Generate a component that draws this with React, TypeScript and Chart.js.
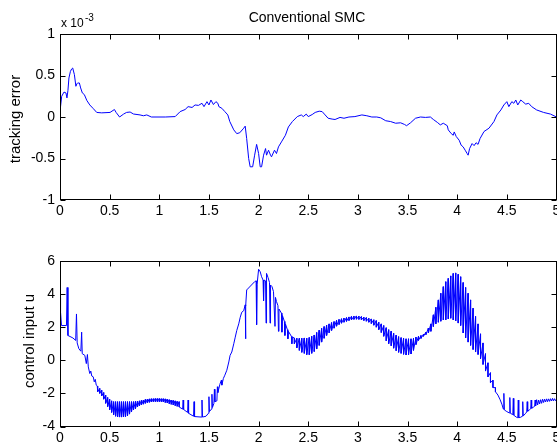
import React, { useEffect, useRef } from "react";
import { Chart, registerables } from "chart.js";

Chart.register(...registerables);

const FONT = '"Liberation Sans", Arial, Helvetica, sans-serif';

// ---- shared axis settings ----
const timeMin = 0;
const timeMax = 5;
const timeStep = 0.5;
const errAxis = { min: -1, max: 1, step: 0.5 };
const uAxis = { min: -4, max: 6, step: 2 };

// ---- top panel: tracking error (x 10^-3) ----
const errTime = [
  0, 0.005, 0.017, 0.04, 0.06, 0.07, 0.08, 0.09, 0.105, 0.118, 0.128, 0.145, 0.16, 0.17, 0.178, 0.195,
  0.208, 0.225, 0.245, 0.27, 0.3, 0.336, 0.37, 0.42, 0.504, 0.548, 0.565, 0.6, 0.64, 0.67, 0.706, 0.74,
  0.806, 0.84, 0.874, 0.92, 1.06, 1.16, 1.21, 1.26, 1.29, 1.33, 1.36, 1.394, 1.43, 1.45, 1.48, 1.5,
  1.52, 1.545, 1.57, 1.59, 1.6, 1.63, 1.66, 1.69, 1.71, 1.75, 1.78, 1.81, 1.85, 1.865, 1.88, 1.9,
  1.915, 1.94, 1.96, 1.98, 2.0, 2.016, 2.03, 2.05, 2.07, 2.08, 2.1, 2.12, 2.13, 2.16, 2.18, 2.2,
  2.23, 2.27, 2.3, 2.34, 2.39, 2.43, 2.45, 2.48, 2.5, 2.54, 2.57, 2.61, 2.64, 2.67, 2.7, 2.74,
  2.77, 2.82, 2.86, 2.91, 2.97, 3.04, 3.09, 3.14, 3.19, 3.23, 3.28, 3.33, 3.38, 3.43, 3.47, 3.49,
  3.53, 3.58, 3.63, 3.68, 3.73, 3.76, 3.8, 3.83, 3.86, 3.9, 3.91, 3.94, 3.96, 3.97, 3.99, 4.02,
  4.04, 4.06, 4.08, 4.1, 4.11, 4.125, 4.15, 4.17, 4.19, 4.21, 4.23, 4.27, 4.32, 4.37, 4.4, 4.44,
  4.47, 4.5, 4.52, 4.55, 4.57, 4.59, 4.61, 4.64, 4.66, 4.69, 4.72, 4.75, 4.8, 4.87, 4.94, 5.0,
];
const errValue = [
  0, 0.12, 0.25, 0.3, 0.29, 0.23, 0.32, 0.47, 0.55, 0.58, 0.59, 0.51, 0.37, 0.4, 0.41, 0.41,
  0.35, 0.29, 0.27, 0.2, 0.145, 0.1, 0.055, 0.05, 0.055, 0.09, 0.055, 0.0, 0.035, 0.055, 0.06, 0.036,
  0.025, 0.015, 0.025, 0.0, 0.0, 0.005, 0.065, 0.09, 0.125, 0.115, 0.145, 0.14, 0.165, 0.125, 0.185, 0.145,
  0.205, 0.15, 0.185, 0.165, 0.125, 0.105, 0.065, 0.025, -0.055, -0.155, -0.2, -0.19, -0.135, -0.11, -0.26, -0.5,
  -0.6, -0.6, -0.46, -0.33, -0.44, -0.6, -0.6, -0.46, -0.38, -0.46, -0.4, -0.46, -0.48, -0.4, -0.44, -0.36,
  -0.3, -0.22, -0.12, -0.055, 0.005, 0.025, 0.005, 0.035, 0.005, 0.03, 0.055, 0.07, 0.065, 0.025, -0.015, -0.025,
  -0.03, -0.005, -0.015, 0.0, 0.005, 0.025, 0.015, 0.0, 0.0, -0.01, -0.045, -0.055, -0.075, -0.07, -0.09, -0.105,
  -0.07, -0.015, 0.0, -0.005, 0.0, -0.03, -0.065, -0.095, -0.075, -0.105, -0.155, -0.2, -0.22, -0.18, -0.235, -0.28,
  -0.34, -0.36, -0.4, -0.44, -0.46, -0.38, -0.32, -0.345, -0.31, -0.33, -0.26, -0.175, -0.135, -0.055, 0.025, 0.085,
  0.145, 0.185, 0.125, 0.185, 0.165, 0.205, 0.145, 0.205, 0.185, 0.155, 0.165, 0.125, 0.085, 0.055, 0.035, 0.0,
];

// ---- bottom panel: control input u ----
// explicit points [time, u]
const uStart: [number, number][] = [
  [0, 3.8], [0.003, 0.0], [0.008, 2.9], [0.015, 2.1], [0.065, 2.1], [0.072, 4.4], [0.08, 1.5],
  [0.13, 1.35], [0.158, 1.2], [0.166, 2.8], [0.173, 1.05], [0.19, 0.7], [0.21, 0.55], [0.218, 1.7],
  [0.224, 0.4], [0.25, 0.3], [0.265, -0.2], [0.276, 0.35], [0.285, -0.4], [0.3, -0.8], [0.31, -0.65],
  [0.32, -0.95], [0.335, -1.0], [0.345, -1.3], [0.355, -1.15], [0.365, -1.5], [0.375, -1.55],
];
// chattering strokes [time, high, low]
const uChatter1: [number, number, number][] = [
  [0.38, -1.55, -1.9], [0.4, -1.7, -2.0], [0.42, -1.8, -2.15], [0.44, -1.95, -2.35], [0.46, -2.1, -2.6],
  [0.48, -2.25, -2.8], [0.5, -2.35, -3.0], [0.52, -2.45, -3.15], [0.54, -2.5, -3.3], [0.56, -2.5, -3.38],
  [0.58, -2.5, -3.42], [0.6, -2.5, -3.43], [0.62, -2.5, -3.43], [0.64, -2.5, -3.42], [0.66, -2.5, -3.4],
  [0.68, -2.5, -3.35], [0.7, -2.5, -3.25], [0.72, -2.5, -3.12], [0.74, -2.5, -3.0], [0.76, -2.48, -2.92],
  [0.78, -2.47, -2.82], [0.8, -2.45, -2.75], [0.82, -2.42, -2.7], [0.84, -2.4, -2.65], [0.86, -2.36, -2.6],
  [0.88, -2.35, -2.56], [0.9, -2.33, -2.54], [0.92, -2.32, -2.52], [0.94, -2.32, -2.5], [0.96, -2.31, -2.5],
  [0.98, -2.31, -2.5], [1.0, -2.31, -2.5], [1.02, -2.32, -2.5], [1.04, -2.32, -2.52], [1.06, -2.33, -2.55],
  [1.08, -2.35, -2.58], [1.1, -2.38, -2.62], [1.12, -2.4, -2.66], [1.14, -2.42, -2.7], [1.16, -2.45, -2.74],
  [1.18, -2.48, -2.78], [1.2, -2.5, -2.82],
];
const uDip: [number, number][] = [
  [1.235, -2.95], [1.24, -2.4], [1.245, -2.97], [1.285, -3.15], [1.29, -2.4], [1.295, -3.2], [1.345, -3.38],
  [1.35, -2.5], [1.355, -3.4], [1.425, -3.43], [1.43, -2.4], [1.435, -3.43], [1.47, -3.38], [1.495, -3.2],
  [1.5, -2.2], [1.505, -3.1], [1.525, -2.95], [1.53, -2.05], [1.535, -2.85], [1.55, -2.6], [1.555, -1.75],
  [1.56, -2.5], [1.58, -2.45], [1.585, -1.6], [1.59, -1.95], [1.61, -1.45], [1.625, -1.2], [1.63, -1.5],
  [1.645, -1.1], [1.66, -0.9], [1.68, -0.6], [1.7, -0.1],
];
const uRise: [number, number][] = [
  [1.713, 0.3], [1.73, 0.5], [1.75, 1.0], [1.765, 1.4], [1.78, 1.8], [1.8, 2.2], [1.815, 2.6], [1.83, 2.9],
  [1.85, 3.0], [1.865, 3.35], [1.868, 1.3], [1.872, 3.3], [1.88, 4.25], [1.96, 4.75], [1.975, 4.8],
  [1.98, 2.15], [1.985, 4.6], [2.0, 5.5], [2.016, 5.35], [2.03, 5.05], [2.045, 4.85], [2.05, 3.6],
  [2.055, 4.85], [2.07, 4.8], [2.075, 2.25], [2.08, 5.25], [2.095, 5.0], [2.11, 4.7], [2.115, 2.25],
  [2.12, 4.55], [2.135, 4.45], [2.15, 4.15], [2.165, 2.05], [2.17, 3.8], [2.18, 3.55], [2.195, 3.3],
  [2.2, 1.75], [2.205, 3.1], [2.23, 2.85], [2.235, 1.7], [2.24, 2.7], [2.26, 2.35], [2.265, 1.5],
  [2.27, 2.2], [2.29, 1.85], [2.295, 1.3], [2.3, 1.75], [2.33, 1.45], [2.335, 1.0], [2.34, 1.4],
];
const uChatter2: [number, number, number][] = [
  [2.36, 1.35, 1.0], [2.385, 1.33, 0.75], [2.41, 1.33, 0.6], [2.435, 1.33, 0.48], [2.46, 1.35, 0.42],
  [2.485, 1.33, 0.34], [2.51, 1.38, 0.34], [2.535, 1.45, 0.42], [2.56, 1.53, 0.53], [2.585, 1.68, 0.68],
  [2.61, 1.82, 0.9], [2.635, 1.93, 1.1], [2.66, 2.04, 1.33], [2.685, 2.12, 1.5], [2.71, 2.2, 1.66],
  [2.735, 2.28, 1.8], [2.76, 2.34, 1.94], [2.785, 2.42, 2.06], [2.81, 2.47, 2.16], [2.835, 2.51, 2.24],
  [2.86, 2.55, 2.3], [2.885, 2.58, 2.35], [2.91, 2.62, 2.4], [2.935, 2.65, 2.44], [2.96, 2.67, 2.47],
  [2.985, 2.68, 2.48], [3.01, 2.67, 2.47], [3.035, 2.64, 2.44], [3.06, 2.61, 2.4], [3.085, 2.58, 2.36],
  [3.11, 2.54, 2.3], [3.135, 2.5, 2.22], [3.16, 2.45, 2.12], [3.185, 2.4, 2.0], [3.21, 2.3, 1.85],
  [3.235, 2.2, 1.68], [3.26, 2.1, 1.45], [3.285, 1.97, 1.18], [3.31, 1.85, 1.0], [3.335, 1.76, 0.88],
  [3.36, 1.63, 0.73], [3.385, 1.52, 0.58], [3.41, 1.43, 0.48], [3.435, 1.37, 0.42], [3.46, 1.33, 0.36],
  [3.485, 1.3, 0.32], [3.51, 1.3, 0.33], [3.535, 1.3, 0.38], [3.56, 1.33, 0.6], [3.585, 1.4, 0.95],
  [3.61, 1.45, 1.2], [3.635, 1.5, 1.32], [3.66, 1.57, 1.45], [3.685, 1.7, 1.55], [3.71, 1.95, 1.65],
];
const uChatter3: [number, number, number][] = [
  [3.735, 2.2, 1.75], [3.76, 2.75, 2.04], [3.785, 3.2, 2.2], [3.81, 3.65, 2.3], [3.835, 4.05, 2.36],
  [3.86, 4.45, 2.44], [3.885, 4.75, 2.44], [3.91, 4.95, 2.5], [3.935, 5.1, 2.54], [3.96, 5.25, 2.44],
  [3.985, 5.28, 2.38], [4.01, 5.2, 2.25], [4.035, 5.05, 2.1], [4.06, 4.7, 1.65], [4.085, 4.4, 1.35],
  [4.11, 4.05, 1.1], [4.135, 3.65, 0.9], [4.16, 3.15, 0.65], [4.185, 2.65, 0.5], [4.21, 2.2, 0.35],
  [4.235, 1.6, 0.1], [4.26, 1.05, -0.25], [4.285, 0.4, -0.65], [4.31, -0.15, -1.0], [4.335, -0.75, -1.35],
  [4.36, -1.2, -1.65], [4.385, -1.65, -1.9],
];
const uTail: [number, number][] = [
  [4.41, -2.1], [4.43, -2.35], [4.45, -2.65], [4.465, -2.95], [4.47, -2.0], [4.475, -3.0], [4.5, -3.1],
  [4.525, -3.18], [4.53, -2.25], [4.535, -3.2], [4.56, -3.28], [4.565, -2.3], [4.57, -3.32], [4.6, -3.45],
  [4.61, -3.47], [4.615, -2.4], [4.62, -3.47], [4.64, -3.44], [4.655, -3.38], [4.66, -2.5], [4.665, -3.36],
  [4.69, -3.2], [4.7, -3.12], [4.705, -2.5], [4.71, -3.08], [4.73, -2.98], [4.74, -2.93], [4.745, -2.4],
  [4.75, -2.9], [4.77, -2.82], [4.78, -2.78], [4.785, -2.4], [4.79, -2.75], [4.8, -2.38], [4.81, -2.7],
  [4.82, -2.4], [4.83, -2.64], [4.84, -2.38], [4.85, -2.6], [4.86, -2.35], [4.87, -2.55], [4.88, -2.35],
  [4.89, -2.52], [4.9, -2.33], [4.91, -2.5], [4.92, -2.33], [4.93, -2.48], [4.94, -2.32], [4.95, -2.46],
  [4.96, -2.3], [4.97, -2.45], [4.98, -2.32], [4.99, -2.44], [5.0, -2.35],
];

const pts = (s: [number, number][]) => s.map(([x, y]) => ({ x, y }));
const strokes = (s: [number, number, number][]) =>
  s.flatMap(([t, h, l]) => [
    { x: t, y: h },
    { x: t, y: l },
  ]);

type Label = { text: string; x: number; y: number; size: number; rotate?: boolean; align?: CanvasTextAlign; baseline?: CanvasTextBaseline };

const framePlugin = (id: string, labels: Label[]) => ({
  id,
  afterDraw(chart: any) {
    const { ctx, chartArea: a } = chart;
    const xs = chart.scales.x;
    const ys = chart.scales.y;
    ctx.save();
    ctx.strokeStyle = "#000";
    ctx.lineWidth = 1;
    const L = Math.round(a.left) + 0.5;
    const R = Math.round(a.right) - 0.5;
    const T = Math.round(a.top) + 0.5;
    const B = Math.round(a.bottom) - 0.5;
    ctx.strokeRect(L, T, R - L, B - T);
    ctx.beginPath();
    xs.ticks.forEach((t: any) => {
      const px = Math.round(xs.getPixelForValue(t.value)) + 0.5;
      ctx.moveTo(px, B);
      ctx.lineTo(px, B - 5);
      ctx.moveTo(px, T);
      ctx.lineTo(px, T + 5);
    });
    ys.ticks.forEach((t: any) => {
      const py = Math.round(ys.getPixelForValue(t.value)) + 0.5;
      ctx.moveTo(L, py);
      ctx.lineTo(L + 5, py);
      ctx.moveTo(R, py);
      ctx.lineTo(R - 5, py);
    });
    ctx.stroke();
    ctx.fillStyle = "#000";
    labels.forEach((lb) => {
      ctx.save();
      ctx.font = `${lb.size}px ${FONT}`;
      ctx.textAlign = lb.align || "center";
      ctx.textBaseline = lb.baseline || "middle";
      ctx.translate(lb.x, lb.y);
      if (lb.rotate) ctx.rotate(-Math.PI / 2);
      ctx.fillText(lb.text, 0, 0);
      ctx.restore();
    });
    ctx.restore();
  },
});

const plainNumber = (v: number | string) => String(Math.round(Number(v) * 1000) / 1000);

function makeConfig(
  data: { x: number; y: number }[],
  axis: { min: number; max: number; step: number },
  padTop: number,
  xHeight: number,
  plugin: any
): any {
  const tickFont = { family: FONT, size: 14 };
  return {
    type: "line",
    data: {
      datasets: [
        {
          data,
          borderColor: "#0000ff",
          borderWidth: 1,
          pointRadius: 0,
          tension: 0,
          fill: false,
        },
      ],
    },
    options: {
      responsive: false,
      animation: false,
      events: [],
      layout: { padding: { top: padTop, right: 0.5, left: 0, bottom: 0 } },
      plugins: { legend: { display: false }, tooltip: { enabled: false }, title: { display: false } },
      scales: {
        x: {
          type: "linear",
          min: timeMin,
          max: timeMax,
          ticks: {
            stepSize: timeStep,
            color: "#000",
            font: tickFont,
            padding: 3,
            maxRotation: 0,
            autoSkip: false,
            callback: plainNumber,
          },
          grid: { display: false, drawTicks: false },
          border: { display: false },
          afterFit: (s: any) => {
            s.height = xHeight;
            s.paddingLeft = 0;
            s.paddingRight = 0;
          },
        },
        y: {
          type: "linear",
          min: axis.min,
          max: axis.max,
          ticks: {
            stepSize: axis.step,
            color: "#000",
            font: tickFont,
            padding: 5,
            autoSkip: false,
            callback: plainNumber,
          },
          grid: { display: false, drawTicks: false },
          border: { display: false },
          afterFit: (s: any) => {
            s.width = 60;
            s.paddingTop = 0;
            s.paddingBottom = 0;
          },
        },
      },
    },
    plugins: [plugin],
  };
}

export default function App() {
  const topRef = useRef<HTMLCanvasElement>(null);
  const botRef = useRef<HTMLCanvasElement>(null);

  useEffect(() => {
    const errData = errTime.map((t, i) => ({ x: t, y: errValue[i] }));
    const uData = [
      ...pts(uStart),
      ...strokes(uChatter1),
      ...pts(uDip),
      ...pts(uRise),
      ...strokes(uChatter2),
      ...strokes(uChatter3),
      ...pts(uTail),
    ];
    const topLabels: Label[] = [
      { text: "Conventional SMC", x: 307, y: 18, size: 14 },
      { text: "x 10", x: 61, y: 27, size: 12, align: "left", baseline: "alphabetic" },
      { text: "-3", x: 85, y: 21, size: 10, align: "left", baseline: "alphabetic" },
      { text: "tracking error", x: 16, y: 119, size: 15, rotate: true },
    ];
    const botLabels: Label[] = [{ text: "control input u", x: 30, y: 111, size: 15, rotate: true }];
    const c1 = new Chart(topRef.current!, makeConfig(errData, errAxis, 34, 30, framePlugin("frameTop", topLabels)));
    const c2 = new Chart(botRef.current!, makeConfig(uData, uAxis, 31, 20.5, framePlugin("frameBot", botLabels)));
    return () => {
      c1.destroy();
      c2.destroy();
    };
  }, []);

  return (
    <div style={{ position: "absolute", left: 0, top: 0, width: 557, height: 447, background: "#fff" }}>
      <canvas ref={topRef} width={557} height={230} style={{ position: "absolute", left: 0, top: 0 }} />
      <canvas ref={botRef} width={557} height={217} style={{ position: "absolute", left: 0, top: 230 }} />
    </div>
  );
}
